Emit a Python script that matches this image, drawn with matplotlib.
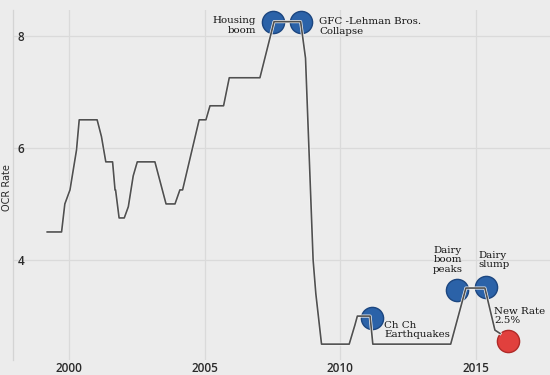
import matplotlib
matplotlib.use("Agg")
import matplotlib.pyplot as plt
import matplotlib.patheffects as pe

# OCR line vertices (decimal year, rate %)
years = [1999.20, 1999.73, 1999.85, 2000.04, 2000.28, 2000.38, 2001.04, 2001.20,
         2001.36, 2001.61, 2001.70, 2001.72, 2001.85, 2002.04, 2002.19, 2002.37,
         2002.52, 2003.17, 2003.58, 2003.91, 2004.09, 2004.19, 2004.80, 2005.05,
         2005.20, 2005.70, 2005.91, 2007.04, 2007.56, 2008.54, 2008.72, 2009.00,
         2009.10, 2009.31, 2010.33, 2010.54, 2010.63, 2011.10, 2011.20, 2014.07,
         2014.63, 2015.33, 2015.70, 2015.89]
rates = [4.5, 4.5, 5.0, 5.25, 5.96, 6.5, 6.5, 6.2,
         5.75, 5.75, 5.25, 5.25, 4.75, 4.75, 4.95, 5.5,
         5.75, 5.75, 5.0, 5.0, 5.25, 5.25, 6.5, 6.5,
         6.75, 6.75, 7.25, 7.25, 8.25, 8.25, 7.6, 4.0,
         3.4, 2.5, 2.5, 2.84, 3.0, 3.0, 2.5, 2.5,
         3.5, 3.5, 2.75, 2.69]

# Event markers
event_labels = ["Housing\nboom", "GFC -Lehman Bros.\nCollapse", "Ch Ch\nEarthquakes",
                "Dairy\nboom\npeaks", "Dairy\nslump"]
event_years = [2007.52, 2008.57, 2011.16, 2014.31, 2015.36]
event_rates = [8.25, 8.25, 2.97, 3.46, 3.52]

new_label = "New Rate\n2.5%"
new_year = [2016.19]
new_rate = [2.55]

x_ticks = [2000, 2005, 2010, 2015]
y_ticks = [4, 6, 8]

BG = "#ececec"
fig = plt.figure(figsize=(5.5, 3.75), dpi=100, facecolor=BG)
ax = fig.add_axes([13/550, 15/375, 537/550, 350/375], facecolor=BG)

ax.set_xlim(1997.94, 2017.73)
ax.set_ylim(2.217, 8.458)

ax.set_xticks(x_ticks)
ax.set_yticks(y_ticks)
ax.grid(True, color="#dadada", linewidth=0.9)
ax.set_axisbelow(True)
for s in ["top", "right", "bottom"]:
    ax.spines[s].set_visible(False)
ax.spines["left"].set_color("#d4d4d4")
ax.spines["left"].set_linewidth(0.9)
ax.tick_params(axis="both", length=0, colors="#2a2a2a", labelsize=8.5)
ax.tick_params(axis="x", pad=1.5)
ax.tick_params(axis="y", pad=-8)
for lab in ax.get_yticklabels() + ax.get_xticklabels():
    lab.set_family("Open Sans")
    lab.set_fontweight("semibold")

fig.text(7/550, 1 - 188/375, "OCR Rate", rotation=90, ha="center", va="center",
         fontsize=7, color="#2a2a2a")

# markers (below line)
ax.plot(event_years, event_rates, "o", markersize=16, markerfacecolor="#2b62a8",
        markeredgecolor="#1c4680", markeredgewidth=1.0, zorder=2, linestyle="none")
ax.plot(new_year, new_rate, "o", markersize=16, markerfacecolor="#e1403d",
        markeredgecolor="#b02a28", markeredgewidth=1.0, zorder=2, linestyle="none")

ax.plot(years, rates, color="#505050", linewidth=1.2, zorder=3,
        path_effects=[pe.Stroke(linewidth=2.2, foreground="#f4f4f4"), pe.Normal()])

tf = dict(family="DejaVu Serif", fontsize=7.4, color="#141414", linespacing=1.1, zorder=4)

def place(px, py, text, ha, va="center"):
    fig.text(px/550, 1 - py/375, text, ha=ha, va=va, **tf)

place(256, 25.5, event_labels[0], "right")
place(319, 26.5, event_labels[1], "left")
place(384, 330, event_labels[2], "left")
place(448, 260, event_labels[3], "center")
place(478, 260, event_labels[4], "left")
place(494, 316, new_label, "left")

fig.savefig("out.png", dpi=100, facecolor=BG)
